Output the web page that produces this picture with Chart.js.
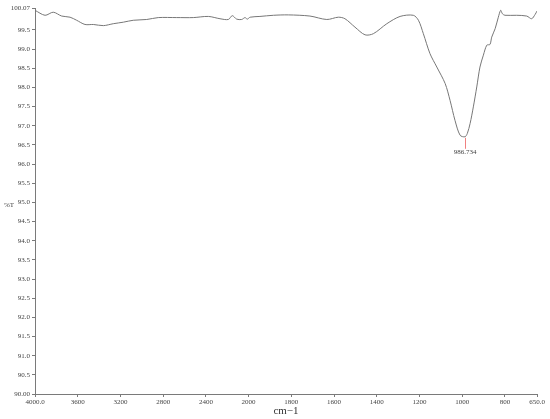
<!DOCTYPE html>
<html>
<head>
<meta charset="utf-8">
<script src="https://cdn.jsdelivr.net/npm/chart.js@4/dist/chart.umd.min.js"></script>
<style>
    html, body { margin: 0; padding: 0; background: #fff; }
    #wrap { width: 550px; height: 419px; }
</style>
</head>
<body>
<div id="wrap"><canvas id="irChart" width="550" height="419"></canvas></div>
<script>
// Spectrum values (wavenumber in cm-1, transmittance in %T)
const wavenumbers = [4000, 3906, 3829, 3750, 3672, 3610, 3532, 3454, 3360, 3267, 3173, 3080, 2954, 2846,
    2673, 2518, 2377, 2268, 2190, 2153, 2112, 2065, 2034, 2012, 1993, 1947, 1884, 1814, 1713, 1634,
    1580, 1549, 1502, 1455, 1416, 1353, 1291, 1229, 1205, 1182, 1151, 1119, 1080, 1057, 1034, 1010,
    987, 976, 963, 948, 932, 917, 901, 885, 870, 862, 846, 831, 820, 812, 800, 745, 698, 675, 659, 650];
const transmittance = [100.01, 99.88, 99.96, 99.86, 99.83, 99.75, 99.64, 99.64, 99.61, 99.66, 99.70, 99.75, 99.77, 99.82,
    99.82, 99.82, 99.85, 99.79, 99.77, 99.87, 99.78, 99.77, 99.82, 99.78, 99.83, 99.85, 99.88, 99.89, 99.86, 99.77,
    99.83, 99.79, 99.57, 99.37, 99.40, 99.66, 99.85, 99.88, 99.75, 99.40, 98.88, 98.53, 98.10, 97.66, 97.14, 96.75,
    96.71, 96.80, 97.06, 97.49, 98.01, 98.53, 98.84, 99.10, 99.12, 99.31, 99.53, 99.83, 100.01, 99.92, 99.88, 99.88, 99.86, 99.79, 99.90, 99.99];

const xTickValues = [4000, 3600, 3200, 2800, 2400, 2000, 1800, 1600, 1400, 1200, 1000, 800, 650];
const xTickLabels = ['4000.0', '3600', '3200', '2800', '2400', '2000', '1800', '1600', '1400', '1200', '1000', '800', '650.0'];
const yTickValues = [90, 90.5, 91, 91.5, 92, 92.5, 93, 93.5, 94, 94.5, 95, 95.5, 96, 96.5, 97, 97.5, 98, 98.5, 99, 99.5, 100.07];
const yTickLabels = ['90.00', '90.5', '91.0', '91.5', '92.0', '92.5', '93.0', '93.5', '94.0', '94.5', '95.0', '95.5',
    '96.0', '96.5', '97.0', '97.5', '98.0', '98.5', '99.0', '99.5', '100.07'];

const peakWavenumber = 986.734;
const peakT = 96.71;
const peakLabel = '986.734';

// the instrument plot halves the scale above 2000 cm-1
function toAxis(w) {
    return w >= 2000 ? (4000 - w) / 2 : 1000 + (2000 - w);
}

const serif = "'Liberation Serif', 'DejaVu Serif', serif";
const axisColor = '#7a7a7a';

const points = wavenumbers.map((w, i) => ({ x: toAxis(w), y: transmittance[i] }));

const extras = {
    id: 'extras',
    afterDraw(chart) {
        const ctx = chart.ctx;
        const xs = chart.scales.x, ys = chart.scales.y;
        // "%T" label, horizontal
        ctx.save();
        ctx.fillStyle = '#444';
        ctx.font = '7px ' + serif;
        ctx.textAlign = 'left';
        ctx.textBaseline = 'middle';
        ctx.fillText('%T', 4, 205);

        // peak marker
        const px = xs.getPixelForValue(toAxis(peakWavenumber));
        const py = ys.getPixelForValue(peakT);
        ctx.strokeStyle = '#f08080';
        ctx.lineWidth = 1;
        ctx.beginPath();
        ctx.moveTo(Math.round(px) + 0.5, py + 1);
        ctx.lineTo(Math.round(px) + 0.5, py + 12);
        ctx.stroke();
        ctx.fillStyle = '#444';
        ctx.textAlign = 'center';
        ctx.textBaseline = 'top';
        ctx.fillText(peakLabel, px, py + 12);
        ctx.restore();
    }
};

const ctx = document.getElementById('irChart').getContext('2d');
new Chart(ctx, {
    type: 'line',
    data: {
        datasets: [{
            data: points,
            borderColor: '#777',
            borderWidth: 1,
            pointRadius: 0,
            tension: 0.3,
            fill: false
        }]
    },
    options: {
        responsive: false,
        animation: false,
        layout: { padding: { top: 8, right: 13, left: 0, bottom: 0 } },
        plugins: {
            legend: { display: false },
            tooltip: { enabled: false }
        },
        scales: {
            x: {
                type: 'linear',
                min: 0,
                max: toAxis(650),
                afterBuildTicks: axis => { axis.ticks = xTickValues.map(w => ({ value: toAxis(w) })); },
                afterFit: axis => { axis.height = 25; },
                ticks: {
                    autoSkip: false,
                    maxRotation: 0,
                    padding: 1,
                    color: '#444',
                    font: { family: serif, size: 7 },
                    callback: (value, index) => xTickLabels[index]
                },
                grid: { drawOnChartArea: false, drawTicks: true, tickLength: 3, color: axisColor },
                border: { color: axisColor, width: 1 },
                title: {
                    display: true,
                    text: 'cm−1',
                    color: '#333',
                    font: { family: serif, size: 11 },
                    padding: { top: 0, bottom: 1 }
                }
            },
            y: {
                min: 90,
                max: 100.07,
                afterBuildTicks: axis => { axis.ticks = yTickValues.map(v => ({ value: v })); },
                afterFit: axis => { axis.width = 35; },
                ticks: {
                    autoSkip: false,
                    padding: 2,
                    color: '#444',
                    font: { family: serif, size: 7 },
                    callback: (value, index) => yTickLabels[index]
                },
                grid: { drawOnChartArea: false, drawTicks: true, tickLength: 3, color: axisColor },
                border: { color: axisColor, width: 1 }
            }
        }
    },
    plugins: [extras]
});
</script>
</body>
</html>
